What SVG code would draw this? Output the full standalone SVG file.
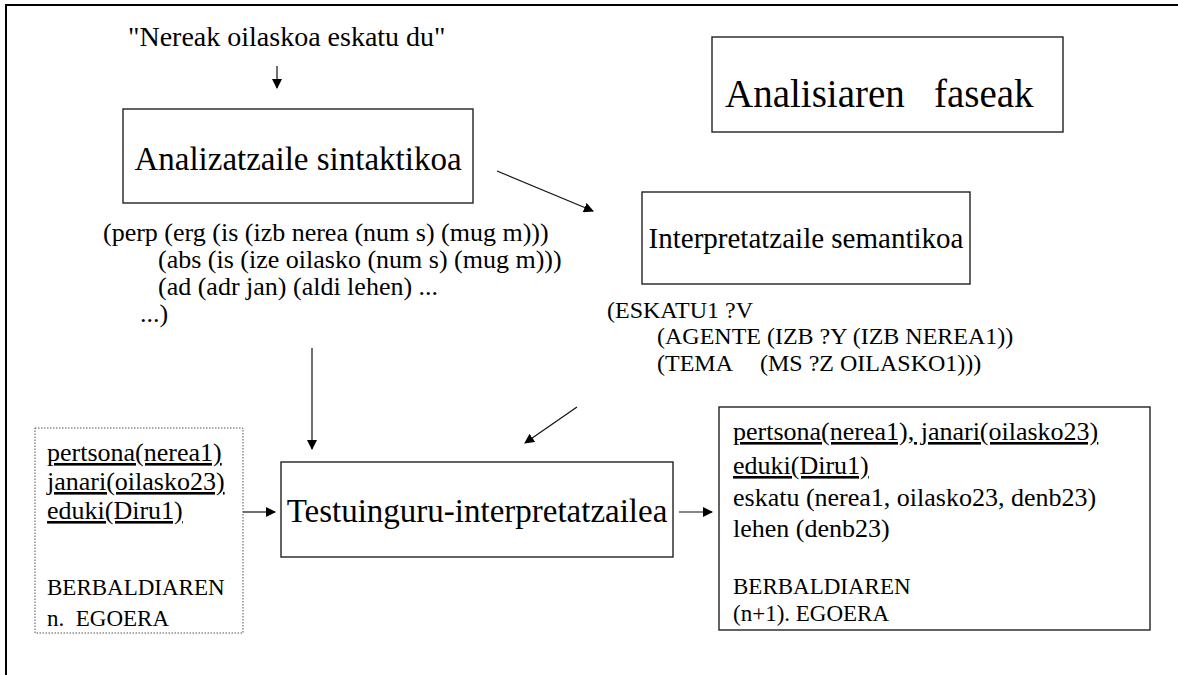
<svg xmlns="http://www.w3.org/2000/svg" width="1178" height="675" viewBox="0 0 1178 675">
  <style>
    text { font-family: "Liberation Serif", "Times New Roman", serif; fill: #000; }
    .box { fill: #fff; stroke: #222; stroke-width: 1.4; }
    .dotbox { fill: #fff; stroke: #555; stroke-width: 1; stroke-dasharray: 1.5 1.5; }
    .big { font-size: 33px; }
    .mid { font-size: 29px; }
    .body { font-size: 26px; }
    .caps { font-size: 23px; }
    .lf { font-size: 24px; }
    .ul { text-decoration: underline; }
    .conn line { stroke: #111; stroke-width: 1.2; }
  </style>
  <defs>
    <marker id="head" viewBox="0 0 10 10" refX="9" refY="5" markerWidth="10" markerHeight="10" markerUnits="userSpaceOnUse" orient="auto">
      <path d="M0,0 L10,5 L0,10 Z" fill="#000"/>
    </marker>
  </defs>

  <rect width="1178" height="675" fill="#fff"/>
  <!-- page frame: top and left edges -->
  <path d="M6,675 V5 H1178" fill="none" stroke="#000" stroke-width="2"/>

  <g id="sentence">
    <text x="128" y="46" font-size="28">"Nereak oilaskoa eskatu du"</text>
  </g>

  <g id="title">
    <rect class="box" x="712" y="37" width="351" height="95"/>
    <text x="725" y="107" font-size="39" xml:space="preserve">Analisiaren   faseak</text>
  </g>

  <g id="parser">
    <rect class="box" x="123" y="109" width="350" height="94"/>
    <text class="big" x="298" y="170" text-anchor="middle">Analizatzaile sintaktikoa</text>
  </g>

  <g id="parse-tree">
    <text class="body" x="103" y="241">(perp (erg (is (izb nerea (num s) (mug m)))</text>
    <text class="body" x="158" y="268">(abs (is (ize oilasko (num s) (mug m)))</text>
    <text class="body" x="158" y="295">(ad (adr jan) (aldi lehen) ...</text>
    <text class="body" x="140" y="322">...)</text>
  </g>

  <g id="semantic">
    <rect class="box" x="642" y="192" width="328" height="92"/>
    <text class="mid" x="806" y="248" text-anchor="middle">Interpretatzaile semantikoa</text>
  </g>

  <g id="logical-form">
    <text class="lf" x="607" y="318">(ESKATU1 ?V</text>
    <text class="lf" x="657" y="344">(AGENTE (IZB ?Y (IZB NEREA1))</text>
    <text class="lf" x="657" y="371">(TEMA</text>
    <text class="lf" x="760" y="371">(MS ?Z OILASKO1)))</text>
  </g>

  <g id="state-n">
    <rect class="dotbox" x="35" y="428" width="208" height="205"/>
    <text class="body ul" x="47" y="461">pertsona(nerea1)</text>
    <text class="body ul" x="47" y="490">janari(oilasko23)</text>
    <text class="body ul" x="47" y="519">eduki(Diru1)</text>
    <text class="caps" x="47" y="595">BERBALDIAREN</text>
    <text class="caps" x="47" y="626" xml:space="preserve">n.  EGOERA</text>
  </g>

  <g id="context">
    <rect class="box" x="281" y="462" width="392" height="95"/>
    <text class="big" x="477" y="522" text-anchor="middle">Testuinguru-interpretatzailea</text>
  </g>

  <g id="state-n1">
    <rect class="box" x="719" y="407" width="431" height="223"/>
    <text class="body ul" x="733" y="440">pertsona(nerea1), janari(oilasko23)</text>
    <text class="body ul" x="733" y="474">eduki(Diru1)</text>
    <text class="body" x="733" y="506">eskatu (nerea1, oilasko23, denb23)</text>
    <text class="body" x="733" y="537">lehen (denb23)</text>
    <text class="caps" x="733" y="594">BERBALDIAREN</text>
    <text class="caps" x="733" y="621">(n+1). EGOERA</text>
  </g>

  <g id="connectors" class="conn">
    <line x1="277" y1="66" x2="277" y2="88" marker-end="url(#head)"/>
    <line x1="497" y1="171" x2="593" y2="211" marker-end="url(#head)"/>
    <line x1="312" y1="348" x2="312" y2="449" marker-end="url(#head)"/>
    <line x1="577" y1="407" x2="525" y2="443" marker-end="url(#head)"/>
    <line x1="243" y1="512" x2="275" y2="512" marker-end="url(#head)"/>
    <line x1="679" y1="512" x2="712" y2="512" marker-end="url(#head)"/>
  </g>
</svg>
